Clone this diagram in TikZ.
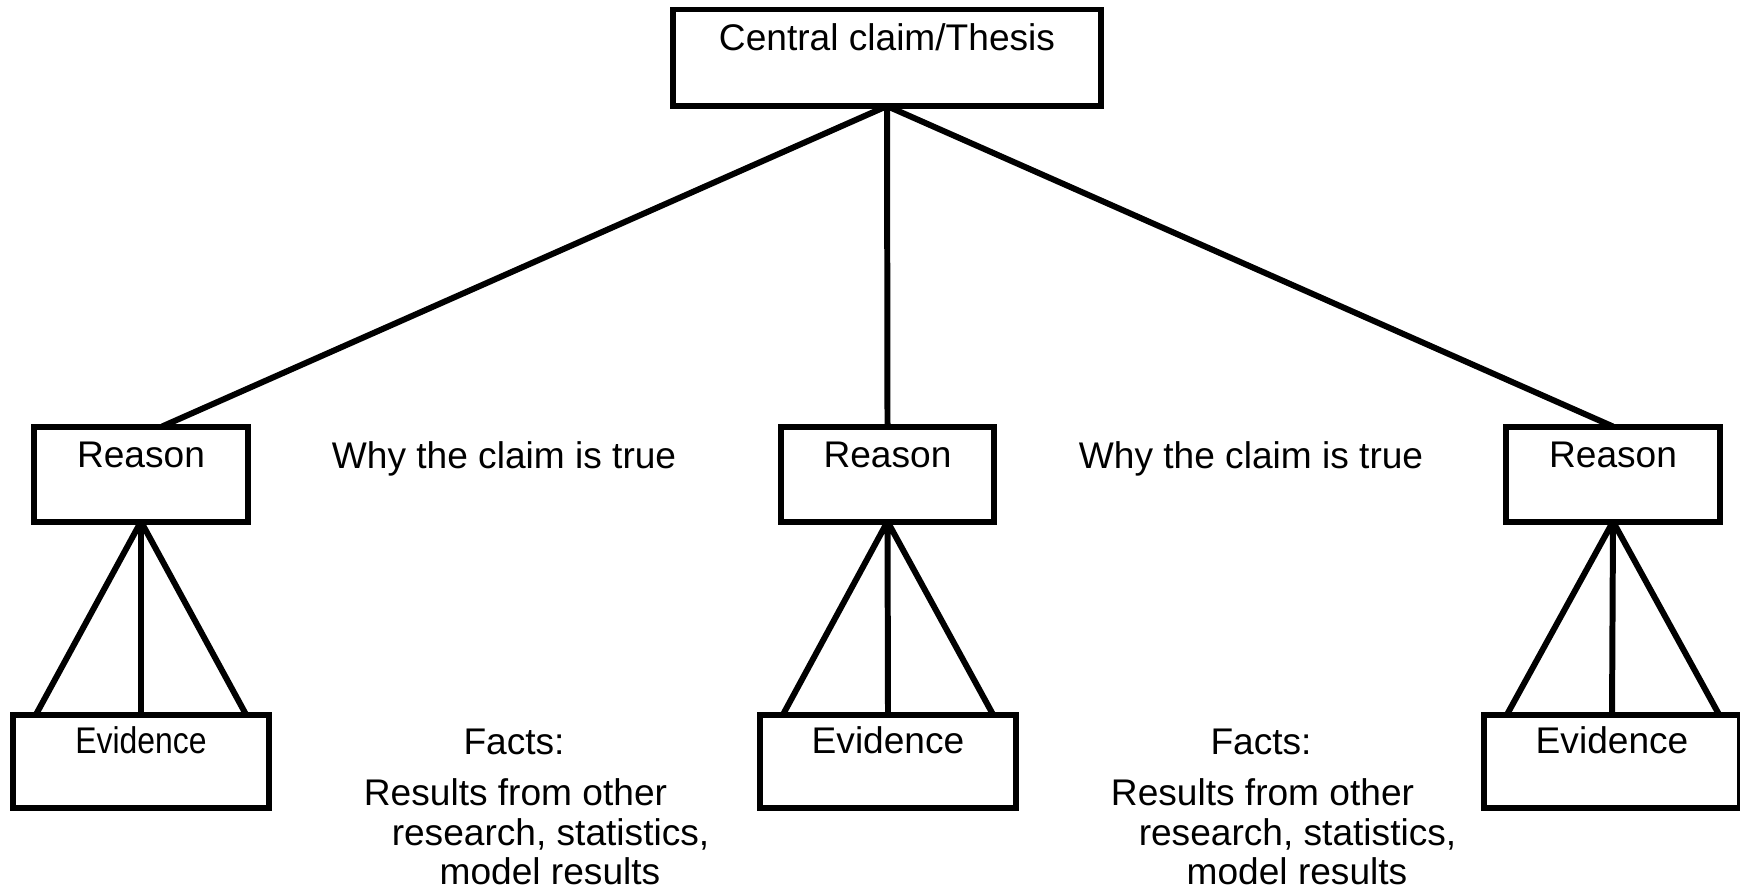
\documentclass[tikz,border=0pt]{standalone}
\usepackage{fontspec}
\setmainfont{Liberation Sans}
\usetikzlibrary{calc}

\begin{document}
\begin{tikzpicture}[x=0.01cm,y=-0.01cm,
  box/.style={draw,line width=1.7pt,inner sep=0pt,outer sep=0pt,anchor=north,
              text height=0.41cm,text depth=0.54cm,
              font=\fontsize{10.55}{12.5}\selectfont},
  reason/.style={box,minimum width=2.13cm},
  evid/.style={box,minimum width=2.55cm,text height=0.39cm},
  txt/.style={anchor=base,inner sep=0pt,font=\fontsize{10.55}{12.5}\selectfont},
  link/.style={line width=1.7pt}]

  \useasboundingbox (0,0) rectangle (1740,887);

  \node[box,minimum width=4.28cm,text depth=0.555cm] (T) at (887,9.5)
    {Central claim/Thesis};

  \node[reason] (RL) at (141,426.5)  {Reason};
  \node[reason] (RM) at (887.5,426.5) {Reason};
  \node[reason] (RR) at (1613,426.5)  {Reason};

  \node[evid] (EL) at (141,714.5)  {\scalebox{0.86}[1]{Evidence}};
  \node[evid] (EM) at (888,714.5)  {Evidence};
  \node[evid] (ER) at (1612,714.5) {Evidence};

  % thesis to reasons
  \draw[link] (T.south) -- ($(RL.north)+(21,0)$);
  \draw[link] (T.south) -- (RM.north);
  \draw[link] (T.south) -- (RR.north);

  % reasons to evidence
  \draw[link] (RL.south) -- ($(EL.north)+(-105,0)$)
              (RL.south) -- (EL.north)
              (RL.south) -- ($(EL.north)+(105,0)$);
  \draw[link] (RM.south) -- ($(EM.north)+(-105,0)$)
              (RM.south) -- (EM.north)
              (RM.south) -- ($(EM.north)+(105,0)$);
  \draw[link] (RR.south) -- ($(ER.north)+(-105,0)$)
              (RR.south) -- (ER.north)
              (RR.south) -- ($(ER.north)+(107,0)$);

  % notes between the columns
  \node[txt] (why1)   at (504,468)   {Why the claim is true};
  \node[txt] (facts1) at (514,754)   {Facts:};
  \node[txt] (resA1)  at (515.5,805) {Results from other};
  \node[txt] (resB1)  at (550.5,845) {research, statistics,};
  \node[txt] (resC1)  at (550,884)   {model results};

  \node[txt] (why2)   at (1251,468)   {Why the claim is true};
  \node[txt] (facts2) at (1261,754)   {Facts:};
  \node[txt] (resA2)  at (1262.5,805) {Results from other};
  \node[txt] (resB2)  at (1297.5,845) {research, statistics,};
  \node[txt] (resC2)  at (1297,884)   {model results};
\end{tikzpicture}
\end{document}
